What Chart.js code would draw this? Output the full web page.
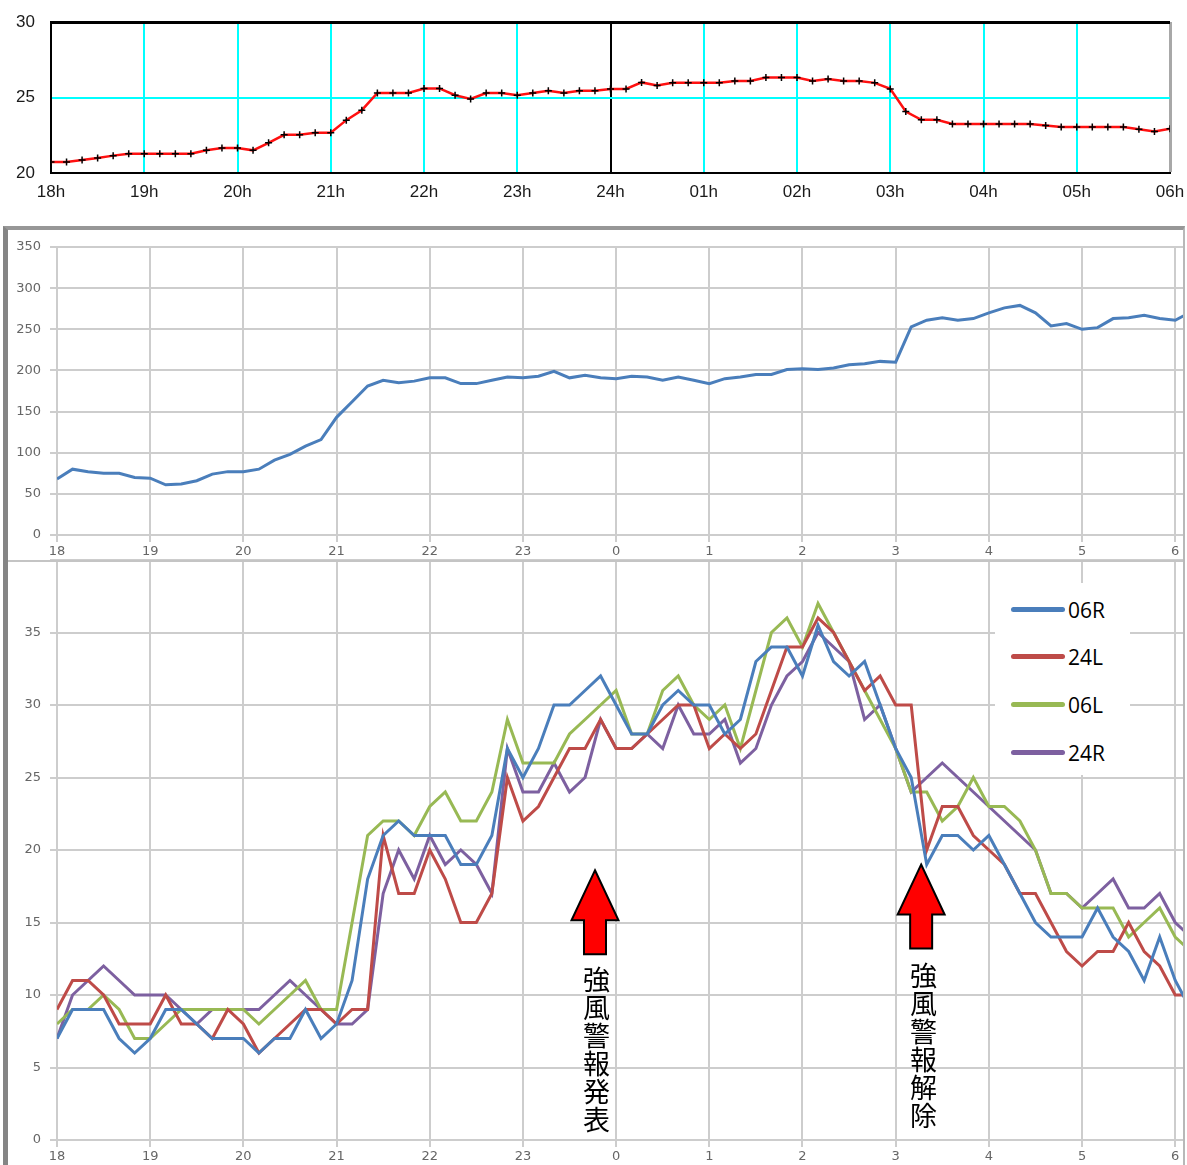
<!DOCTYPE html>
<html>
<head>
<meta charset="utf-8">
<script src="https://cdn.jsdelivr.net/npm/chart.js@4"></script>
<style>
html,body{margin:0;padding:0;background:#fff;}
body{width:1187px;height:1165px;position:relative;overflow:hidden;}
canvas{position:absolute;}
#frame{position:absolute;left:3px;top:226px;width:1175px;height:945px;border-left:5px solid #858585;border-top:4px solid #979797;border-right:2px solid #b8b8b8;}
#divider{position:absolute;left:8px;top:560px;width:1175px;height:2px;background:#c4c4c4;}
#legend{position:absolute;left:995px;top:583px;width:135px;height:192px;background:#fff;}
.lg-row{position:absolute;left:0;width:135px;height:30px;}
.lg-line{position:absolute;left:16px;top:12px;width:54px;height:5px;border-radius:3px;}
.lg-text{position:absolute;left:73px;top:0;font:21px "Open Sans",sans-serif;line-height:30px;color:#000;}
.vtext{position:absolute;writing-mode:vertical-rl;font:27px "Noto Sans CJK JP",sans-serif;line-height:27px;letter-spacing:1px;color:#000;}
</style>
</head>
<body>
<div id="frame"></div>
<canvas id="c1" width="1187" height="206" style="left:0;top:0;width:1187px;height:206px"></canvas>
<canvas id="c2" width="1175" height="330" style="left:8px;top:230px;width:1175px;height:330px"></canvas>
<canvas id="c3" width="1175" height="609" style="left:8px;top:556px;width:1175px;height:609px"></canvas>
<div id="divider"></div>
<div id="legend"></div>
<div class="vtext" id="t0" style="left:583px;top:966px;"></div>
<div class="vtext" id="t1" style="left:910px;top:962px;"></div>
<script>
// ---------- DATA ----------
const topHourLabels = ['18h','19h','20h','21h','22h','23h','24h','01h','02h','03h','04h','05h','06h'];
const hourLabels = ['18','19','20','21','22','23','0','1','2','3','4','5','6'];

// 10-minute values, 18:00 .. 06:00
const temperature = [20.73,20.73,20.86,21.0,21.15,21.28,21.28,21.28,21.28,21.28,21.5,21.65,
  21.65,21.5,22.0,22.53,22.53,22.67,22.67,23.5,24.16,25.3,25.3,25.3,
  25.6,25.6,25.15,24.9,25.3,25.3,25.15,25.3,25.45,25.3,25.45,25.45,
  25.57,25.57,26.0,25.8,25.97,25.97,25.97,25.97,26.1,26.1,26.32,26.32,
  26.32,26.1,26.23,26.1,26.1,25.97,25.57,24.07,23.52,23.52,23.24,23.24,
  23.24,23.24,23.24,23.24,23.15,23.04,23.04,23.04,23.04,23.04,22.9,22.75,22.93];

// 10-minute values, 18:00 .. 06:10
const middleSeries = [68,80,77,75,75,70, 69,61,62,66,74,77, 77,80,91,98,108,116,
  143,162,181,188,185,187, 191,191,184,184,188,192, 191,193,199,191,194,191,
  190,193,192,188,192,188, 184,190,192,195,195,201, 202,201,203,207,208,211,
  210,253,261,264,261,263, 270,276,279,270,254,257, 250,252,263,264,267,263, 261,271];

const seriesNames = ['06R','24L','06L','24R'];
const seriesColors = ['#4a7ebb','#be4b48','#98b954','#7d60a0'];
const wind06R = [7,9,9,9,7,6, 7,9,9,8,7,7, 7,6,7,7,9,7, 8,11,18,21,22,21, 21,21,19,19,21,27,
  25,27,30,30,31,32, 30,28,28,30,31,30, 30,28,29,33,34,34, 32,35.5,33,32,33,30,
  27,25,19,21,21,20, 21,19,17,15,14,14, 14,16,14,13,11,14, 11,9];
const wind24L = [9,11,11,10,8,8, 8,10,8,8,7,9, 8,6,7,8,9,9, 8,9,9,21,17,17, 20,18,15,15,17,25,
  22,23,25,27,27,29, 27,27,28,29,30,30, 27,28,27,28,31,34, 34,36,35,33,31,32,
  30,30,20,23,23,21, 20,19,17,17,15,13, 12,13,13,15,13,12, 10,10];
const wind06L = [8,9,9,10,9,7, 7,8,9,9,9,9, 9,8,9,10,11,9, 9,15,21,22,22,21, 23,24,22,22,24,29,
  26,26,26,28,29,30, 31,28,28,31,32,30, 29,30,27,31,35,36, 34,37,35,33,31,29,
  27,24,24,22,23,25, 23,23,22,20,17,17, 16,16,16,14,15,16, 14,13];
const wind24R = [7,10,11,12,11,10, 10,10,9,8,9,9, 9,9,10,11,10,9, 8,8,9,17,20,18, 21,19,20,19,17,27,
  24,24,26,24,25,29, 27,27,28,27,30,28, 28,29,26,27,30,32, 33,35,34,33,29,30,
  27,24,25,26,25,24, 23,22,21,20,17,17, 16,17,18,16,16,17, 15,14];
const seriesValues = [wind06R, wind24L, wind06L, wind24R];

const noticeTexts = ['強風警報発表','強風警報解除'];
const arrowX = [34.64, 55.64];     // in 10-minute steps from 18:00
const arrowTipY = [18.6, 19.0];

// ---------- HELPERS ----------
const toXY = arr => arr.map((v,i)=>({x:i,y:v}));
const hourTicks = labels => labels.map((_,i)=>({value:i*6}));

// ---------- TOP CHART ----------
new Chart(document.getElementById('c1'), {
  type:'line',
  data:{datasets:[{
    data:toXY(temperature),
    borderColor:'#ff1010', borderWidth:2.5,
    pointStyle:'cross', pointRadius:3.5, pointBorderColor:'#000', pointBorderWidth:1.5,
    pointBackgroundColor:'#000', tension:0
  }]},
  options:{
    responsive:false, animation:false, devicePixelRatio:1,
    layout:{padding:{left:0,right:17,top:22,bottom:0}},
    plugins:{legend:{display:false},tooltip:{enabled:false}},
    scales:{
      x:{type:'linear',min:0,max:72,
        afterBuildTicks:s=>{s.ticks=hourTicks(topHourLabels);},
        afterFit:s=>{s.height=33;s.paddingLeft=0;s.paddingRight=0;},
        ticks:{callback:v=>topHourLabels[Math.round(v/6)],padding:9,maxRotation:0,autoSkip:false,
          font:{family:'Liberation Sans',size:17},color:'#1a1a1a'},
        grid:{drawTicks:false,
          color:c=>{const v=c.tick&&c.tick.value; if(v===36||v===0) return '#000'; if(v===72) return '#a8a8a8'; return '#00ffff';},
          lineWidth:c=>{const v=c.tick&&c.tick.value; return v===72?3:2;}},
        border:{color:'#000',width:2}
      },
      y:{min:20,max:30,
        afterBuildTicks:s=>{s.ticks=[{value:20},{value:25},{value:30}];},
        afterFit:s=>{s.width=51;s.paddingTop=0;s.paddingBottom=0;},
        ticks:{padding:16,font:{family:'Liberation Sans',size:17},color:'#1a1a1a'},
        grid:{drawTicks:false,
          color:c=>{const v=c.tick&&c.tick.value; return v===25?'#00ffff':'#000';},
          lineWidth:c=>{const v=c.tick&&c.tick.value; return v===30?3:2;}},
        border:{color:'#000',width:2}
      }
    }
  }
});

// ---------- shared scale settings for lower panels ----------
const tickFont = {family:'DejaVu Sans',size:13};
const tickColor = '#666666';
const gridColor = '#cdcdcd';
function xScale(){
  return {type:'linear',min:0,max:72.5,
    afterBuildTicks:s=>{s.ticks=hourTicks(hourLabels);},
    afterFit:s=>{s.height=25;s.paddingLeft=0;s.paddingRight=0;},
    ticks:{callback:v=>hourLabels[Math.round(v/6)],padding:2,maxRotation:0,autoSkip:false,font:tickFont,color:tickColor},
    grid:{color:gridColor,lineWidth:2,tickLength:7,drawTicks:true},
    border:{display:false}
  };
}

// ---------- MIDDLE CHART ----------
new Chart(document.getElementById('c2'), {
  type:'line',
  data:{datasets:[{data:toXY(middleSeries),borderColor:'#4a7ebb',borderWidth:3,pointRadius:0,tension:0}]},
  options:{
    responsive:false, animation:false, devicePixelRatio:1,
    layout:{padding:{left:0,right:0,top:17,bottom:0}},
    plugins:{legend:{display:false},tooltip:{enabled:false}},
    scales:{
      x:xScale(),
      y:{min:0,max:350,
        afterBuildTicks:s=>{const t=[];for(let v=0;v<=350;v+=50)t.push({value:v});s.ticks=t;},
        afterFit:s=>{s.width=49;s.paddingTop=0;s.paddingBottom=0;},
        ticks:{padding:9,font:tickFont,color:tickColor},
        grid:{color:gridColor,lineWidth:2,tickLength:7},
        border:{display:false}
      }
    }
  }
});

// ---------- BOTTOM CHART ----------
const arrowPlugin = {
  id:'arrows',
  afterDatasetsDraw(chart){
    const {ctx, scales:{x,y}} = chart;
    ctx.save();
    arrowX.forEach((xv,i)=>{
      const px=x.getPixelForValue(xv), py=y.getPixelForValue(arrowTipY[i]);
      const hw=23.5, hh=50, sw=11, sl=84;
      ctx.beginPath();
      ctx.moveTo(px,py); ctx.lineTo(px+hw,py+hh); ctx.lineTo(px+sw,py+hh); ctx.lineTo(px+sw,py+sl);
      ctx.lineTo(px-sw,py+sl); ctx.lineTo(px-sw,py+hh); ctx.lineTo(px-hw,py+hh); ctx.closePath();
      ctx.fillStyle='#ff0000'; ctx.fill();
      ctx.lineWidth=2; ctx.strokeStyle='#000'; ctx.lineJoin='miter'; ctx.stroke();
    });
    ctx.restore();
  }
};

new Chart(document.getElementById('c3'), {
  type:'line',
  data:{datasets:seriesValues.map((vals,i)=>({
    label:seriesNames[i], data:toXY(vals), borderColor:seriesColors[i], borderWidth:3, pointRadius:0, tension:0
  }))},
  options:{
    responsive:false, animation:false, devicePixelRatio:1,
    layout:{padding:{left:0,right:0,top:4,bottom:0}},
    plugins:{legend:{display:false},tooltip:{enabled:false}},
    scales:{
      x:xScale(),
      y:{min:0,max:40,
        afterBuildTicks:s=>{const t=[];for(let v=0;v<=40;v+=5)t.push({value:v});s.ticks=t;},
        afterFit:s=>{s.width=49;s.paddingTop=0;s.paddingBottom=0;},
        ticks:{padding:9,font:tickFont,color:tickColor,callback:v=>v===40?'':v},
        grid:{color:gridColor,lineWidth:2,tickLength:7},
        border:{display:false}
      }
    }
  },
  plugins:[arrowPlugin]
});

// ---------- legend (HTML) ----------
const lg = document.getElementById('legend');
const rowTops = [12, 59, 107, 155];
seriesNames.forEach((n,i)=>{
  const r=document.createElement('div'); r.className='lg-row'; r.style.top=rowTops[i]+'px';
  const l=document.createElement('div'); l.className='lg-line'; l.style.background=seriesColors[i];
  const t=document.createElement('div'); t.className='lg-text'; t.textContent=n;
  r.appendChild(l); r.appendChild(t); lg.appendChild(r);
});
noticeTexts.forEach((s,i)=>{document.getElementById('t'+i).textContent=s;});
</script>
</body>
</html>
